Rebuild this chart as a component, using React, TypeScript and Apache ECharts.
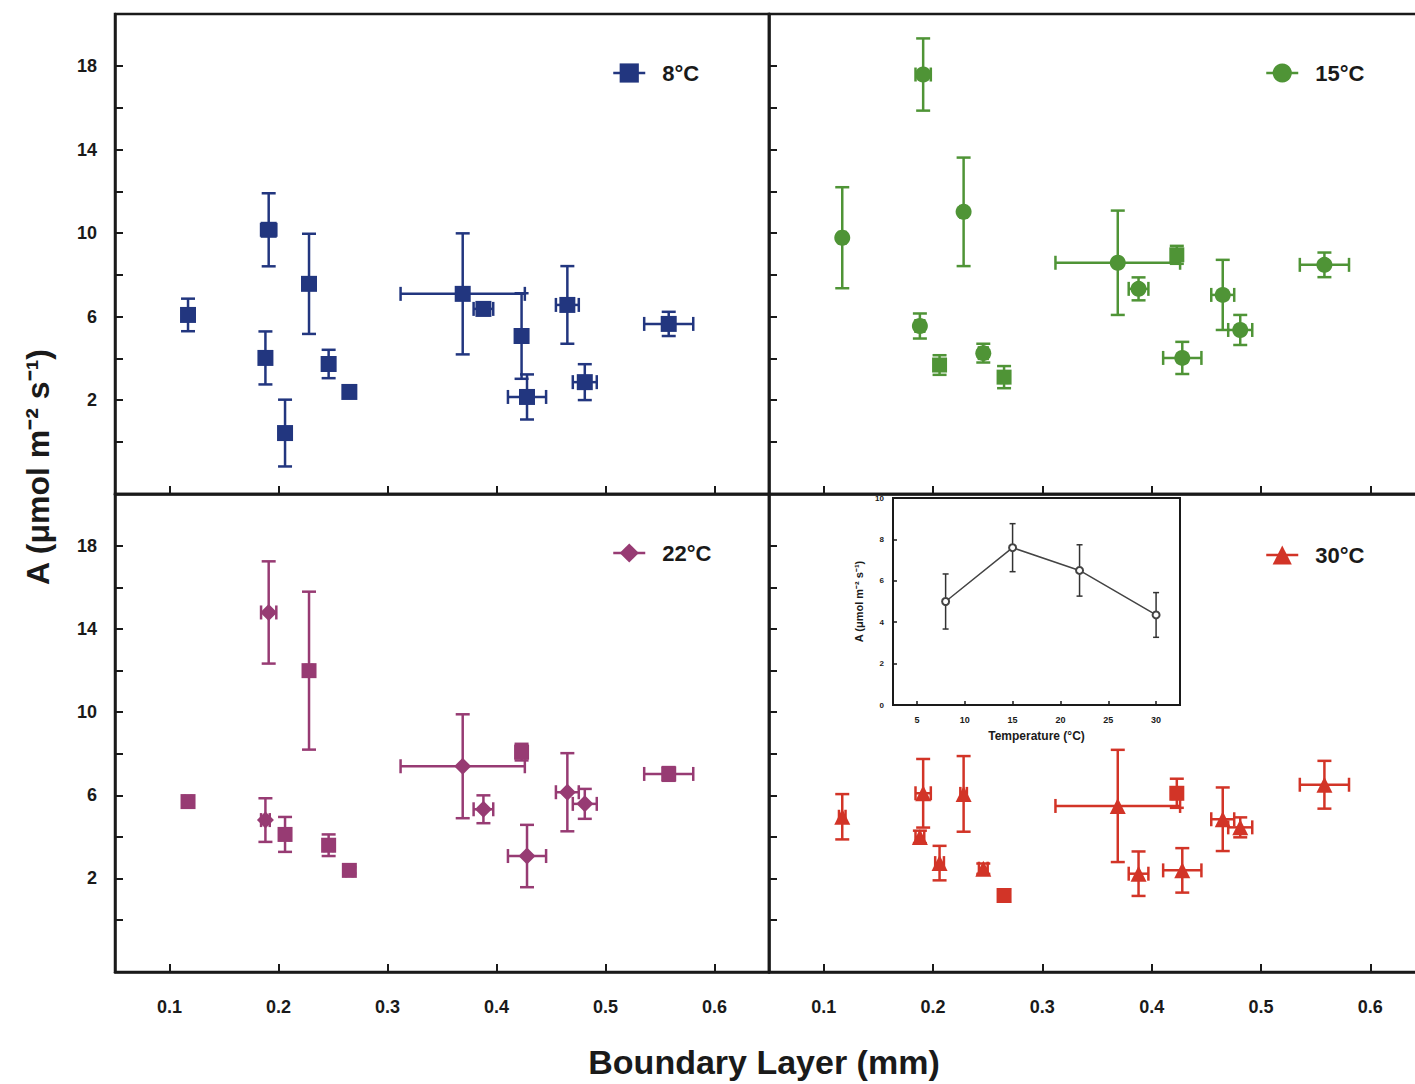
import React, { useEffect, useRef } from "react";
import * as echarts from "echarts";

// Shared boundary-layer thickness (mm) of the 14 leaves and its SE
const boundaryLayer = [0.117, 0.191, 0.228, 0.188, 0.206, 0.246, 0.265, 0.369, 0.388, 0.423, 0.428, 0.465, 0.481, 0.558];
const boundaryErr = [0.003, 0.007, 0.003, 0.004, 0.004, 0.004, 0.003, 0.057, 0.009, 0.004, 0.0175, 0.0105, 0.011, 0.0225];

// Assimilation A (µmol m-2 s-1) per temperature and its SE
const a8 = [6.08, 10.16, 7.57, 4.02, 0.42, 3.73, 2.39, 7.09, 6.37, 5.07, 2.15, 6.56, 2.86, 5.65];
const e8 = [0.78, 1.75, 2.4, 1.27, 1.6, 0.68, 0.15, 2.9, 0.3, 2.05, 1.08, 1.86, 0.86, 0.58];
const a15 = [9.78, 17.6, 11.02, 5.55, 3.68, 4.25, 3.1, 8.58, 7.33, 8.96, 4.02, 7.04, 5.36, 8.48];
const e15 = [2.42, 1.73, 2.6, 0.6, 0.47, 0.45, 0.53, 2.5, 0.55, 0.43, 0.77, 1.68, 0.72, 0.59];
const a22 = [5.7, 14.8, 12.0, 4.81, 4.12, 3.6, 2.39, 7.4, 5.33, 8.08, 3.08, 6.15, 5.59, 7.03];
const e22 = [0.2, 2.46, 3.8, 1.05, 0.84, 0.52, 0.15, 2.5, 0.67, 0.4, 1.5, 1.88, 0.72, 0.33];
const a30 = [4.97, 6.1, 6.07, 4.0, 2.74, 2.47, 1.18, 5.49, 2.23, 6.1, 2.39, 4.85, 4.46, 6.51];
const e30 = [1.09, 1.65, 1.82, 0.3, 0.83, 0.25, 0.3, 2.7, 1.07, 0.7, 1.07, 1.53, 0.48, 1.15];

// Inset: mean A versus temperature
const insetTemp = [8, 15, 22, 30];
const insetA = [5.0, 7.6, 6.5, 4.35];
const insetErr = [1.33, 1.16, 1.24, 1.08];

// Ticks
const xTicks = [0.1, 0.2, 0.3, 0.4, 0.5, 0.6];
const yTicks = [0, 2, 4, 6, 8, 10, 12, 14, 16, 18];
const yLabels = [2, 6, 10, 14, 18];
const insetXTicks = [5, 10, 15, 20, 25, 30];

const FONT = "'Liberation Sans', Arial, Helvetica, sans-serif";
const INK = "#1a1a1a";

const panels = [
  { name: "8°C", a: a8, e: e8, color: "#22367f", symbol: "rect", size: 16, squares: [] as number[],
    grid: { left: 115, top: 14, width: 654, height: 480 }, showX: false, showY: true, legend: { left: 612, top: 62 } },
  { name: "15°C", a: a15, e: e15, color: "#4f9436", symbol: "circle", size: 16, squares: [4, 6, 9],
    grid: { left: 769, top: 14, width: 656, height: 480 }, showX: false, showY: false, legend: { left: 1265, top: 62 } },
  { name: "22°C", a: a22, e: e22, color: "#973b73", symbol: "diamond", size: 17, squares: [0, 2, 4, 5, 6, 9, 13],
    grid: { left: 115, top: 494, width: 654, height: 478 }, showX: true, showY: true, legend: { left: 612, top: 542 } },
  { name: "30°C", a: a30, e: e30, color: "#d23427", symbol: "triangle", size: 16, squares: [6, 9],
    grid: { left: 769, top: 494, width: 656, height: 478 }, showX: true, showY: false, legend: { left: 1265, top: 544 } },
];

function errRender(color: string, lw: number, cap: number) {
  return (params: any, api: any) => {
    const x = api.value(0), y = api.value(1), xe = api.value(2), ye = api.value(3);
    const p = api.coord([x, y]);
    const style = { stroke: color, lineWidth: lw, fill: "none" };
    const children: any[] = [];
    const ln = (x1: number, y1: number, x2: number, y2: number) =>
      children.push({ type: "line", shape: { x1, y1, x2, y2 }, style });
    if (ye > 0) {
      const t = api.coord([x, y + ye]);
      const b = api.coord([x, y - ye]);
      ln(p[0], t[1], p[0], b[1]);
      ln(p[0] - cap, t[1], p[0] + cap, t[1]);
      ln(p[0] - cap, b[1], p[0] + cap, b[1]);
    }
    if (xe > 0) {
      const l = api.coord([x - xe, y]);
      const r = api.coord([x + xe, y]);
      ln(l[0], p[1], r[0], p[1]);
      ln(l[0], p[1] - cap, l[0], p[1] + cap);
      ln(r[0], p[1] - cap, r[0], p[1] + cap);
    }
    return { type: "group", children };
  };
}

export default function App() {
  const ref = useRef<HTMLDivElement>(null);
  useEffect(() => {
    if (!ref.current) return;
    const chart = echarts.init(ref.current, null, { renderer: "svg" });

    const grids: any[] = panels.map((p) => ({
      ...p.grid, show: true, borderColor: INK, borderWidth: 2.5, backgroundColor: "transparent", containLabel: false,
    }));
    grids.push({ left: 893, top: 498, width: 287, height: 207, show: true, borderColor: INK, borderWidth: 2,
      backgroundColor: "#ffffff", containLabel: false });

    const xAxes: any[] = panels.map((p, i) => ({
      gridIndex: i, type: "value", min: 0.05, max: 0.65,
      axisLine: { show: true, onZero: false, lineStyle: { color: INK, width: 2.5 } },
      axisTick: { show: true, inside: true, length: 8, customValues: xTicks, lineStyle: { color: INK, width: 2 } },
      axisLabel: { show: p.showX, customValues: xTicks, formatter: (v: number) => v.toFixed(1), margin: 26,
        fontFamily: FONT, fontWeight: "bold", fontSize: 18, color: INK },
      splitLine: { show: false },
    }));
    const yAxes: any[] = panels.map((p, i) => ({
      gridIndex: i, type: "value", min: -2.5, max: 20.5,
      axisLine: { show: true, onZero: false, lineStyle: { color: INK, width: 2.5 } },
      axisTick: { show: true, inside: true, length: 8, customValues: yTicks, lineStyle: { color: INK, width: 2 } },
      axisLabel: { show: p.showY, customValues: yLabels, margin: 18,
        fontFamily: FONT, fontWeight: "bold", fontSize: 18, color: INK },
      splitLine: { show: false },
    }));
    xAxes.push({
      gridIndex: 4, type: "value", min: 2.5, max: 32.5,
      name: "Temperature (°C)", nameLocation: "middle", nameGap: 25,
      nameTextStyle: { fontFamily: FONT, fontWeight: "bold", fontSize: 12, color: INK },
      axisLine: { show: true, onZero: false, lineStyle: { color: INK, width: 2 } },
      axisTick: { show: true, inside: true, length: 4, customValues: insetXTicks, lineStyle: { color: INK, width: 1.5 } },
      axisLabel: { customValues: insetXTicks, margin: 10, fontFamily: FONT, fontWeight: "bold", fontSize: 9, color: INK },
      splitLine: { show: false },
    });
    yAxes.push({
      gridIndex: 4, type: "value", min: 0, max: 10, interval: 2,
      name: "A (μmol m⁻² s⁻¹)", nameLocation: "middle", nameGap: 29,
      nameTextStyle: { fontFamily: FONT, fontWeight: "bold", fontSize: 11, color: INK },
      axisLine: { show: true, onZero: false, lineStyle: { color: INK, width: 2 } },
      axisTick: { show: true, inside: true, length: 4, lineStyle: { color: INK, width: 1.5 } },
      axisLabel: { margin: 9, fontFamily: FONT, fontWeight: "bold", fontSize: 8, color: INK },
      splitLine: { show: false },
    });

    const series: any[] = [];
    panels.forEach((p, i) => {
      series.push({
        type: "custom", name: p.name + " SE", coordinateSystem: "cartesian2d",
        xAxisIndex: i, yAxisIndex: i, z: 2, silent: true,
        renderItem: errRender(p.color, 2.5, 7),
        encode: { x: 0, y: 1 },
        data: boundaryLayer.map((x, k) => [x, p.a[k], boundaryErr[k], p.e[k]]),
      });
      series.push({
        type: "line", name: p.name, xAxisIndex: i, yAxisIndex: i, z: 3,
        symbol: p.symbol, symbolSize: p.size, showSymbol: true,
        lineStyle: { opacity: 0, width: 0 },
        itemStyle: { color: p.color, opacity: 1 },
        data: boundaryLayer.map((x, k) => ({
          value: [x, p.a[k]],
          symbol: p.squares.includes(k) ? "rect" : p.symbol,
          symbolSize: p.squares.includes(k) ? 15 : p.size,
        })),
      });
    });
    series.push({
      type: "custom", name: "inset SE", coordinateSystem: "cartesian2d",
      xAxisIndex: 4, yAxisIndex: 4, z: 5, silent: true,
      renderItem: errRender("#333333", 1.5, 3),
      encode: { x: 0, y: 1 },
      data: insetTemp.map((t, k) => [t, insetA[k], 0, insetErr[k]]),
    });
    series.push({
      type: "line", name: "inset", xAxisIndex: 4, yAxisIndex: 4, z: 6,
      symbol: "emptyCircle", symbolSize: 7,
      lineStyle: { color: "#444444", width: 1.5 },
      itemStyle: { color: "#444444", borderWidth: 1.2 },
      data: insetTemp.map((t, k) => [t, insetA[k]]),
    });

    const legends = panels.map((p) => ({
      data: [p.name], left: p.legend.left, top: p.legend.top, padding: 0, itemGap: 0,
      itemWidth: 32, itemHeight: 24, selectedMode: false,
      lineStyle: { width: 2.5, opacity: 1, color: p.color },
      itemStyle: { color: p.color, opacity: 1 },
      textStyle: { fontFamily: FONT, fontWeight: "bold", fontSize: 22, color: INK, padding: [0, 0, 0, 12] },
    }));

    chart.setOption({
      animation: false,
      backgroundColor: "#ffffff",
      grid: grids,
      xAxis: xAxes,
      yAxis: yAxes,
      legend: legends,
      series,
      graphic: [
        {
          type: "text", x: 38, y: 467, rotation: Math.PI / 2,
          style: { text: "A (μmol m⁻² s⁻¹)", fontFamily: FONT, fontWeight: "bold", fontSize: 32, fill: INK,
            textAlign: "center", textVerticalAlign: "middle" },
        },
        {
          type: "text", x: 764, y: 1062,
          style: { text: "Boundary Layer (mm)", fontFamily: FONT, fontWeight: "bold", fontSize: 34, fill: INK,
            textAlign: "center", textVerticalAlign: "middle" },
        },
      ],
    });
    return () => chart.dispose();
  }, []);

  return (
    <div style={{ position: "fixed", left: 0, top: 0, width: 1415, height: 1084, overflow: "hidden", background: "#fff" }}>
      <div ref={ref} style={{ width: 1430, height: 1084 }} />
    </div>
  );
}
